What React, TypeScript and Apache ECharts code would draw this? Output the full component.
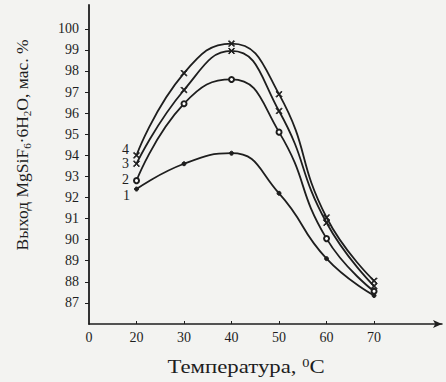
import React, { useEffect, useRef } from "react";
import * as echarts from "echarts";

const xLabels = ["0", "20", "30", "40", "50", "60", "70"];
const temps = [20, 30, 40, 50, 60, 70];
const yTicks = [87, 88, 89, 90, 91, 92, 93, 94, 95, 96, 97, 98, 99, 100];

const curve1 = [92.4, 93.6, 94.1, 92.2, 89.1, 87.35];
const curve2 = [92.8, 96.45, 97.6, 95.1, 90.05, 87.55];
const curve3 = [93.6, 97.1, 98.95, 96.1, 90.8, 87.8];
const curve4 = [94.0, 97.9, 99.3, 96.9, 91.05, 88.05];
const curveNames = ["1", "2", "3", "4"];

const INK = "#1e1e1e";
const FONT = "Liberation Serif";
const XMARK = "path://M0,1L1,0L5,4L9,0L10,1L6,5L10,9L9,10L5,6L1,10L0,9L4,5Z";

export default function App() {
  const ref = useRef<HTMLDivElement>(null);
  useEffect(() => {
    if (!ref.current) return;
    const chart = echarts.init(ref.current, null, { renderer: "svg" });
    const all = [curve1, curve2, curve3, curve4];
    const symbols = ["circle", "emptyCircle", XMARK, XMARK];
    const sizes = [4, 5, 6, 6];
    const offsets = [[0, 6], [0, -1], [0, 0], [0, -6]];
    const series = all.map((vals, k) => ({
      type: "line",
      name: curveNames[k],
      smooth: 0.5,
      symbol: symbols[k],
      symbolSize: sizes[k],
      showAllSymbol: true,
      lineStyle: { color: INK, width: 1.8 },
      itemStyle: { color: INK, borderColor: INK, borderWidth: 1 },
      data: temps.map((t, i) => {
        const item: any = { value: [xLabels.indexOf(String(t)), vals[i]] };
        if (i === 0) {
          item.label = {
            show: true,
            position: "left",
            distance: 4,
            offset: offsets[k],
            formatter: curveNames[k],
            fontFamily: FONT,
            fontSize: 14,
            lineHeight: 13,
            color: INK,
          };
        }
        return item;
      }),
      z: 3,
    }));
    const option: any = {
      animation: false,
      backgroundColor: "#f3f3f1",
      grid: { left: 89, top: 5, width: 353, height: 319, containLabel: false },
      xAxis: {
        type: "value",
        min: 0,
        max: 7.43,
        interval: 1,
        axisLine: {
          show: true,
          symbol: ["none", "arrow"],
          symbolSize: [6, 9],
          lineStyle: { color: INK, width: 1.5 },
        },
        axisTick: {
          show: true,
          inside: true,
          length: 3,
          customValues: [1, 2, 3, 4, 5, 6],
          lineStyle: { color: INK, width: 1 },
        },
        axisLabel: {
          customValues: [0, 1, 2, 3, 4, 5, 6],
          formatter: (v: number) => xLabels[Math.round(v)] ?? "",
          margin: 6,
          fontFamily: FONT,
          fontSize: 14,
          color: INK,
        },
        splitLine: { show: false },
      },
      yAxis: {
        type: "value",
        min: 86,
        max: 101.13,
        interval: 1,
        axisLine: { show: true, lineStyle: { color: INK, width: 1.8 } },
        axisTick: {
          show: true,
          length: 4,
          customValues: yTicks,
          lineStyle: { color: INK, width: 1 },
        },
        axisLabel: {
          customValues: yTicks,
          margin: 10,
          fontFamily: FONT,
          fontSize: 14,
          color: INK,
        },
        splitLine: { show: false },
      },
      graphic: [
        {
          type: "text",
          x: 22,
          y: 145,
          rotation: Math.PI / 2,
          style: {
            text: "Выход MgSiF{s|6}·6H{s|2}O, мас. %",
            fontFamily: FONT,
            fontSize: 17.5,
            fill: INK,
            align: "center",
            verticalAlign: "middle",
            lineHeight: 20,
            rich: {
              s: { fontFamily: FONT, fontSize: 11, lineHeight: 11, verticalAlign: "bottom", fill: INK },
            },
          },
        },
        {
          type: "text",
          x: 246,
          y: 367,
          scaleX: 1.2,
          style: {
            text: "Температура, {p|0}C",
            fontFamily: FONT,
            fontSize: 19,
            fill: INK,
            align: "center",
            verticalAlign: "middle",
            lineHeight: 21,
            rich: {
              p: { fontFamily: FONT, fontSize: 12, lineHeight: 12, verticalAlign: "top", fill: INK },
            },
          },
        },
      ],
      series,
    };
    chart.setOption(option);
    return () => chart.dispose();
  }, []);
  return (
    <div
      ref={ref}
      style={{ position: "absolute", left: 0, top: 0, width: 446, height: 382 }}
    />
  );
}
